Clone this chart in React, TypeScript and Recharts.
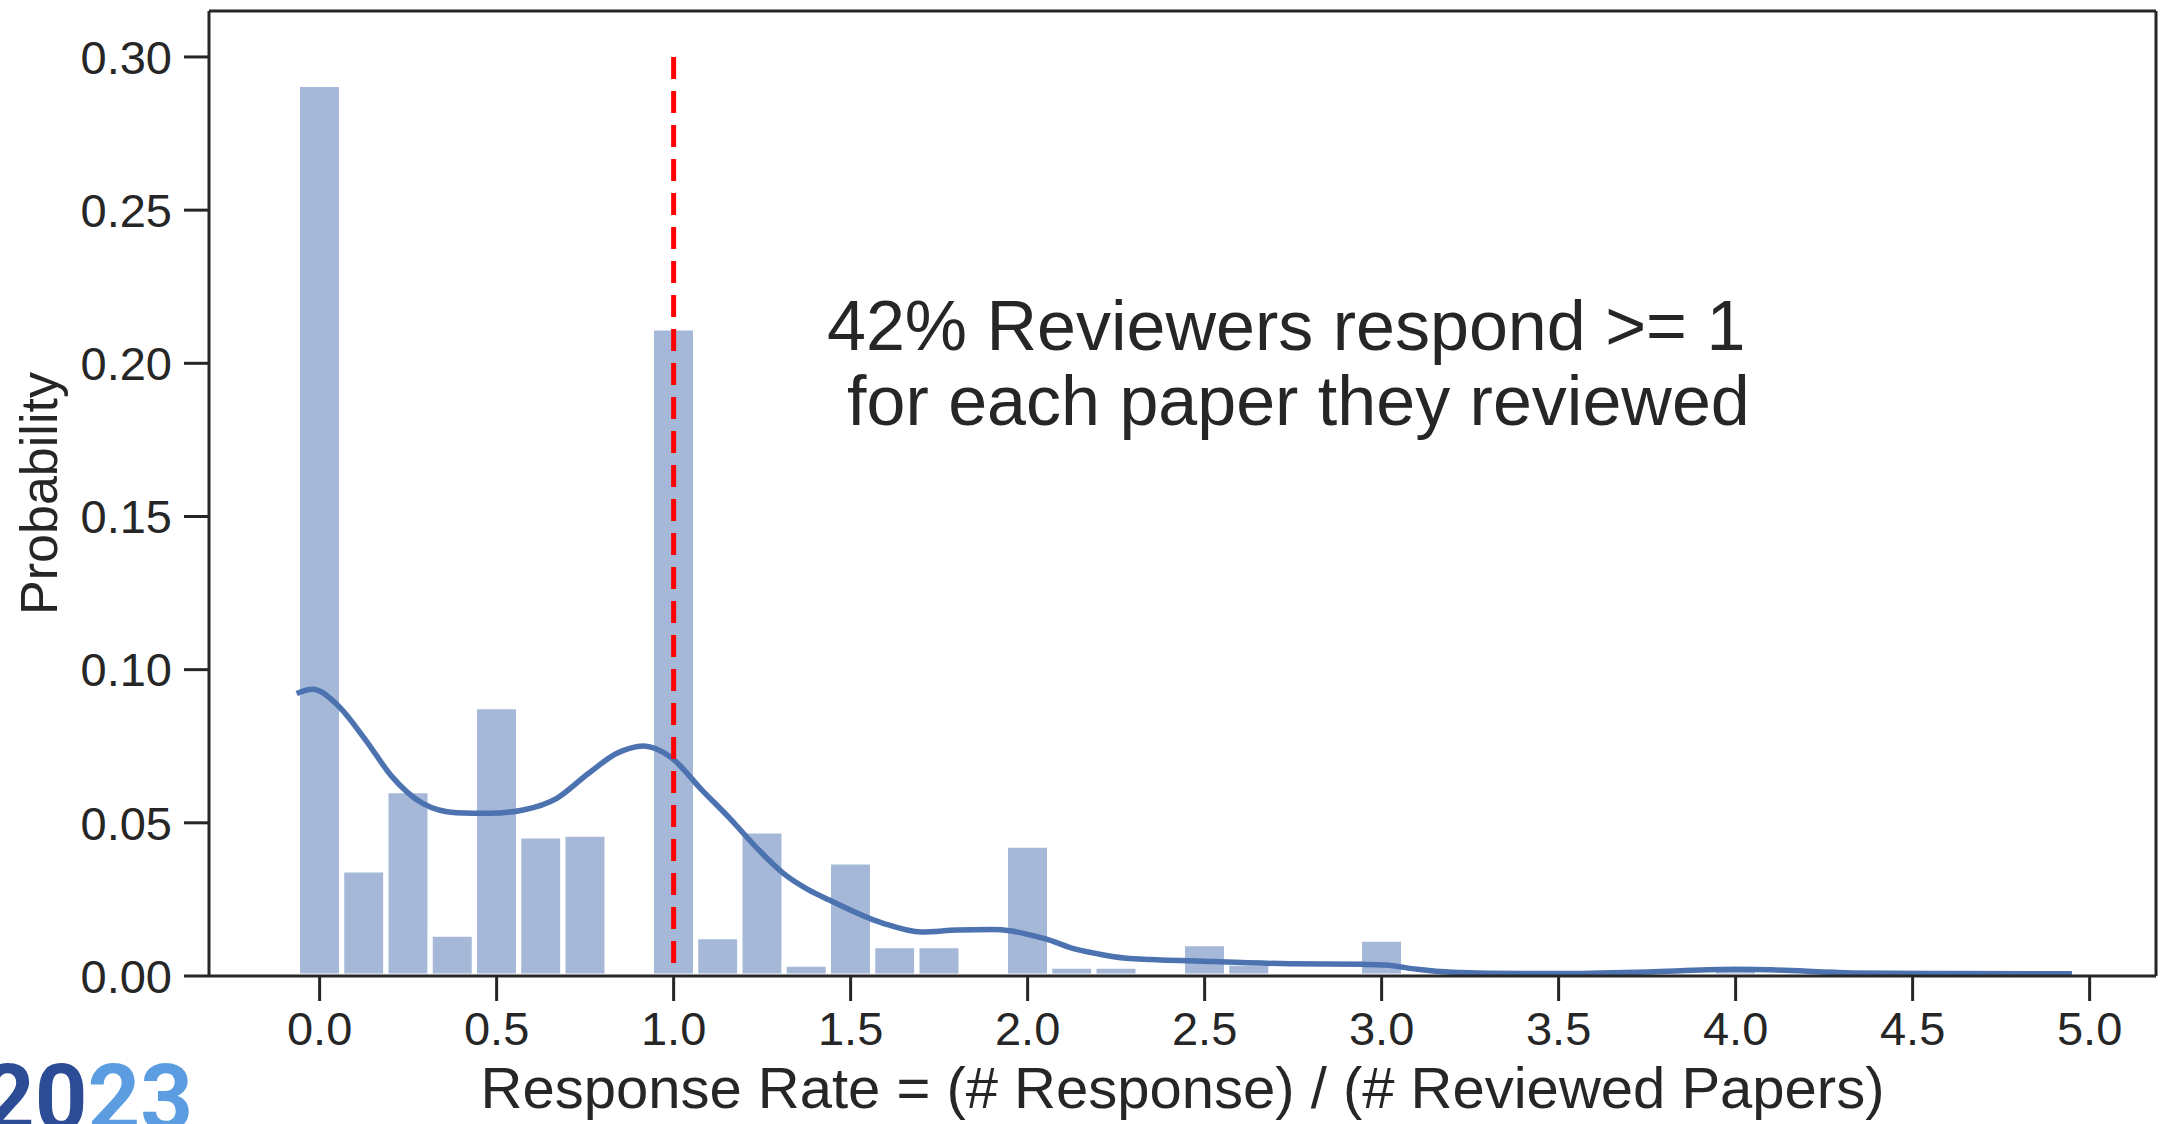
import React from 'react';
import { ComposedChart, Bar, Line, XAxis, YAxis, ReferenceLine, Label } from 'recharts';

// Histogram bins (centres), covering the whole x range of the axes
const binCenters = [
  '-0.250', '-0.125', '0.000', '0.125', '0.250', '0.375', '0.500', '0.625', '0.750', '0.875',
  '1.000', '1.125', '1.250', '1.375', '1.500', '1.625', '1.750', '1.875', '2.000', '2.125',
  '2.250', '2.375', '2.500', '2.625', '2.750', '2.875', '3.000', '3.125', '3.250', '3.375',
  '3.500', '3.625', '3.750', '3.875', '4.000', '4.125', '4.250', '4.375', '4.500', '4.625',
  '4.750', '4.875', '5.000', '5.125',
];
const binProbability = [
  0, 0, 0.291, 0.0346, 0.0605, 0.0136, 0.0879, 0.0457, 0.0463, 0,
  0.2115, 0.0128, 0.0473, 0.0038, 0.0372, 0.0099, 0.0099, 0, 0.0427, 0.0032,
  0.0032, 0, 0.0105, 0.0042, 0, 0, 0.012, 0, 0, 0,
  0, 0, 0, 0, 0.0035, 0, 0, 0, 0, 0,
  0, 0, 0, 0,
];

// KDE curve
const kdeX = [
  -0.065, -0.02, 0.055, 0.13, 0.205, 0.29, 0.385, 0.48, 0.575, 0.67, 0.76, 0.84, 0.915, 0.99,
  1.08, 1.16, 1.24, 1.31, 1.38, 1.44, 1.59, 1.7, 1.8, 1.9, 1.95, 2.0, 2.06, 2.12, 2.2, 2.28, 2.35, 2.52,
  2.74, 2.95, 3.01, 3.1, 3.2, 3.3, 3.5, 3.77, 4.0, 4.1, 4.33, 4.6, 4.95,
];
const kdeY = [
  0.0922, 0.0936, 0.0879, 0.077, 0.065, 0.0564, 0.0533, 0.0531, 0.0542, 0.058, 0.0662, 0.0727,
  0.0751, 0.0716, 0.0607, 0.0513, 0.0412, 0.0335, 0.0282, 0.0248, 0.0173, 0.0144, 0.015, 0.0152, 0.0148,
  0.0136, 0.0118, 0.0093, 0.0072, 0.0058, 0.0054, 0.0047, 0.004, 0.0038, 0.0036, 0.0022, 0.0012,
  0.0009, 0.0008, 0.0014, 0.0022, 0.002, 0.001, 0.0008, 0.0007,
];

// Threshold line
const thresholdX = [1, 1];
const thresholdY = [0.3, 0];

const xTicks = [0, 0.5, 1, 1.5, 2, 2.5, 3, 3.5, 4, 4.5, 5];
const yTicks = [0, 0.05, 0.1, 0.15, 0.2, 0.25, 0.3];
const xDomain = [-0.3125, 5.1875];
const yDomain = [0, 0.315];

const xTitle = 'Response Rate = (# Response) / (# Reviewed Papers)';
const yTitle = 'Probability';
const noteLine1 = '42% Reviewers respond >= 1';
const noteLine2 = 'for each paper they reviewed';

const barData = binCenters.map((b, i) => ({ bin: b, p: binProbability[i] }));
const kdeData = kdeX.map((x, i) => ({ x, y: kdeY[i] }));
const thresholdData = thresholdX.map((x, i) => ({ x, y: thresholdY[i] }));

const FONT = '"Liberation Sans", Arial, Helvetica, sans-serif';
const INK = '#262626';

export default function App() {
  return (
    <div style={{ position: 'absolute', left: 0, top: 0, width: 2160, height: 1124, background: '#fff' }}>
      <ComposedChart
        width={2160}
        height={1124}
        data={barData}
        margin={{ top: 11, right: 4, left: 0, bottom: 0 }}
        barCategoryGap={0}
        barGap={0}
      >
        <XAxis
          xAxisId="num"
          dataKey="x"
          type="number"
          domain={xDomain}
          ticks={xTicks}
          allowDataOverflow
          height={148}
          tickFormatter={(v: number) => v.toFixed(1)}
          tick={{ fontSize: 47, fill: INK, fontFamily: FONT }}
          tickSize={25}
          tickMargin={11}
          axisLine={{ stroke: INK, strokeWidth: 3 }}
          tickLine={{ stroke: INK, strokeWidth: 3 }}
        >
          <Label
            content={(props: any) => {
              const vb = props.viewBox || { x: 209, y: 976, width: 1947 };
              return (
                <text
                  x={vb.x + vb.width / 2}
                  y={vb.y + 132}
                  textAnchor="middle"
                  fontSize={58}
                  fontFamily={FONT}
                  fill={INK}
                >
                  {xTitle}
                </text>
              );
            }}
          />
        </XAxis>
        <XAxis xAxisId="cat" dataKey="bin" type="category" hide height={0} />
        <YAxis
          type="number"
          domain={yDomain}
          ticks={yTicks}
          allowDataOverflow
          width={209}
          tickFormatter={(v: number) => v.toFixed(2)}
          tick={{ fontSize: 47, fill: INK, fontFamily: FONT }}
          tickSize={25}
          tickMargin={12}
          axisLine={{ stroke: INK, strokeWidth: 3 }}
          tickLine={{ stroke: INK, strokeWidth: 3 }}
        >
          <Label
            content={(props: any) => {
              const vb = props.viewBox || { x: 0, y: 11, height: 965 };
              const cy = vb.y + vb.height / 2;
              return (
                <text
                  x={57}
                  y={cy}
                  transform={`rotate(-90, 57, ${cy})`}
                  textAnchor="middle"
                  fontSize={52}
                  fontFamily={FONT}
                  fill={INK}
                >
                  {yTitle}
                </text>
              );
            }}
          />
        </YAxis>
        <Bar
          xAxisId="cat"
          dataKey="p"
          fill="#a5b8d8"
          stroke="#ffffff"
          strokeWidth={5}
          isAnimationActive={false}
        />
        <Line
          xAxisId="num"
          data={kdeData}
          dataKey="y"
          type="monotone"
          stroke="#4c72b0"
          strokeWidth={5.5}
          dot={false}
          activeDot={false}
          isAnimationActive={false}
        />
        <Line
          xAxisId="num"
          data={thresholdData}
          dataKey="y"
          type="linear"
          stroke="#ff0000"
          strokeWidth={5}
          strokeDasharray="22 12"
          dot={false}
          activeDot={false}
          isAnimationActive={false}
        />
        <ReferenceLine xAxisId="num" y={0.315} stroke={INK} strokeWidth={3} ifOverflow="visible" />
        <ReferenceLine xAxisId="num" x={5.1875} stroke={INK} strokeWidth={3} ifOverflow="visible" />
      </ComposedChart>
      <svg
        width={2160}
        height={1124}
        style={{ position: 'absolute', left: 0, top: 0, pointerEvents: 'none' }}
      >
        <text x={827} y={350} fontSize={70} fontFamily={FONT} fill={INK}>
          {noteLine1}
        </text>
        <text x={847} y={425} fontSize={70} fontFamily={FONT} fill={INK}>
          {noteLine2}
        </text>
        <text x={-18} y={1130} fontSize={92} fontWeight={700} fontFamily="Roboto, sans-serif">
          <tspan fill="#2c4d95">20</tspan>
          <tspan fill="#5b9de0">23</tspan>
        </text>
      </svg>
    </div>
  );
}
